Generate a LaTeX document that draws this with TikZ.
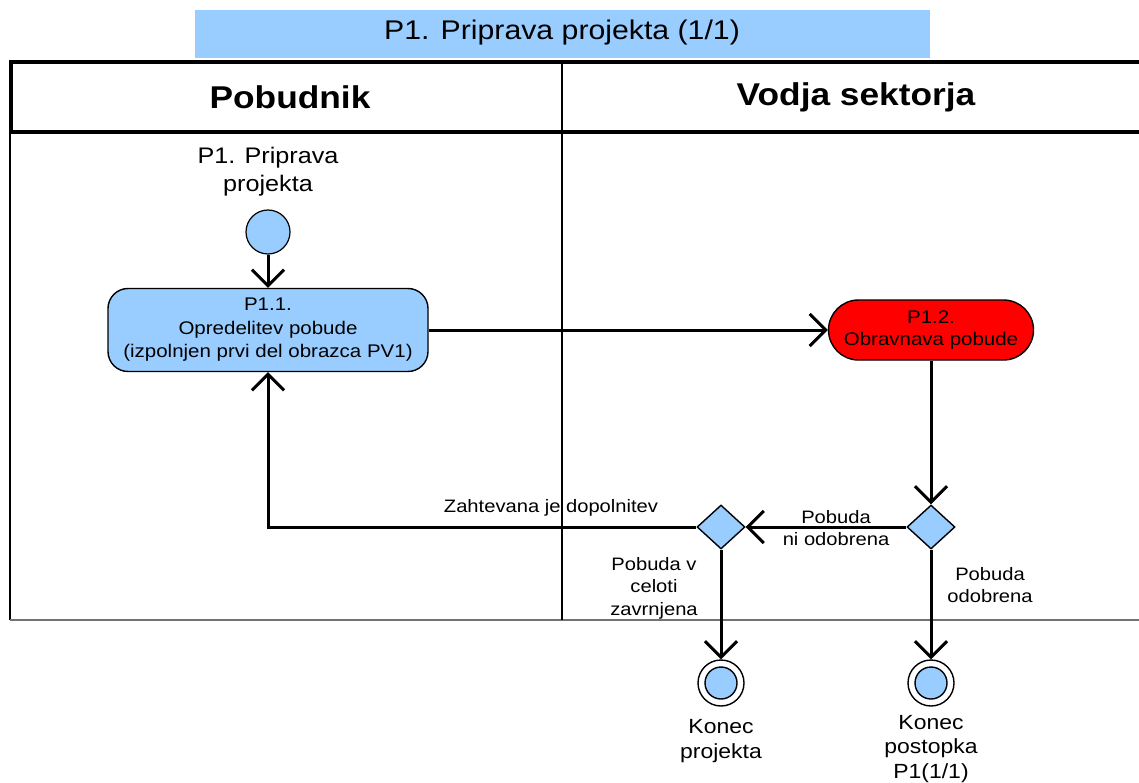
\documentclass[tikz,border=0pt]{standalone}
\usepackage{fontspec}
\setmainfont{Liberation Sans}[FakeStretch=1.12]
\usetikzlibrary{shapes.geometric,arrows.meta}
\definecolor{actblue}{HTML}{99CCFF}
\definecolor{actred}{HTML}{FF0000}
\tikzset{
  flow/.style={line width=3pt,-{Straight Barb[length=16pt,width=32pt,line width=3pt]}},
  action/.style={draw=black,line width=1.4pt,fill=actblue,rounded corners=20pt,align=center,
    minimum width=320pt,minimum height=83pt,inner sep=0pt,font=\fontsize{18.3}{23.5}\selectfont},
  redaction/.style={draw=black,line width=1.4pt,fill=actred,rounded corners=30pt,align=center,
    minimum width=205pt,minimum height=60pt,inner sep=0pt,font=\fontsize{18.3}{22}\selectfont},
  decision/.style={diamond,draw=black,line width=1.4pt,fill=actblue,minimum width=48pt,
    minimum height=44pt,inner sep=0pt},
  startnode/.style={circle,draw=black,line width=1.2pt,fill=actblue,minimum size=44pt,inner sep=0pt},
  endouter/.style={circle,draw=black,line width=1.4pt,fill=white,minimum size=46pt,inner sep=0pt},
  endinner/.style={circle,draw=black,line width=1.4pt,fill=actblue,minimum size=32pt,inner sep=0pt},
  lbl/.style={align=center,inner sep=0pt,font=\fontsize{18}{22.5}\selectfont},
  endlbl/.style={align=center,inner sep=0pt,font=\fontsize{20.5}{24.5}\selectfont},
  lanehead/.style={inner sep=0pt,font=\bfseries\fontsize{31.5}{34}\selectfont},
}
\begin{document}
\begin{tikzpicture}[x=1pt,y=-1pt]
\useasboundingbox (0,0) rectangle (1139,783);
\fill[white] (0,0) rectangle (1139,783);

% title bar
\fill[actblue] (195,10) rectangle (930,58);
\node[inner sep=0pt,font=\fontsize{27}{28}\selectfont] (title) at (562,33) {P1. Priprava projekta (1/1)};

% swimlanes
\draw[line width=1.2pt] (10,133) -- (10,620);
\draw[line width=1.4pt,black!55] (10,620) -- (1145,620);
\draw[line width=1.2pt] (562,62) -- (562,620);
\draw[line width=4pt] (1145,62) -- (11,62) -- (11,132) -- (1145,132);
\node[lanehead] (laneA) at (290,97) {Pobudnik};
\node[lanehead] (laneB) at (856,97) {Vodja sektorja};

% start
\node[align=center,inner sep=0pt,font=\fontsize{22.5}{28}\selectfont] (startlbl) at (268,172) {P1. Priprava\\projekta};
\node[startnode] (start) at (268,232) {};

% actions
\node[action] (a1) at (268,330) {P1.1.\\Opredelitev pobude\\(izpolnjen prvi del obrazca PV1)};
\node[redaction] (a2) at (931,330) {P1.2.\\Obravnava pobude};

% decisions
\node[decision] (d1) at (931,527) {};
\node[decision] (d2) at (721,527) {};

% ends
\node[endouter] (e1) at (721,683) {};
\node[endinner] (e1i) at (721,683) {};
\node[endouter] (e2) at (931,683) {};
\node[endinner] (e2i) at (931,683) {};
\node[endlbl] (e1lbl) at (721,741) {Konec\\projekta};
\node[endlbl] (e2lbl) at (931,749) {Konec\\postopka\\P1(1/1)};

% flows
\draw[flow] (start) -- (a1);
\draw[flow] (a1) -- (a2);
\draw[flow] (a2) -- (d1);
\draw[flow] (d1) -- (d2);
\draw[flow] (d2.west) -| (a1.south);
\draw[flow] (d2) -- (e1);
\draw[flow] (d1) -- (e2);

% flow labels
\node[lbl] (l1) at (551,508) {Zahtevana je dopolnitev};
\node[lbl] (l2) at (836,528) {Pobuda\\ni odobrena};
\node[lbl] (l3) at (654,588) {Pobuda v\\celoti\\zavrnjena};
\node[lbl] (l4) at (990,585) {Pobuda\\odobrena};
\end{tikzpicture}
\end{document}
